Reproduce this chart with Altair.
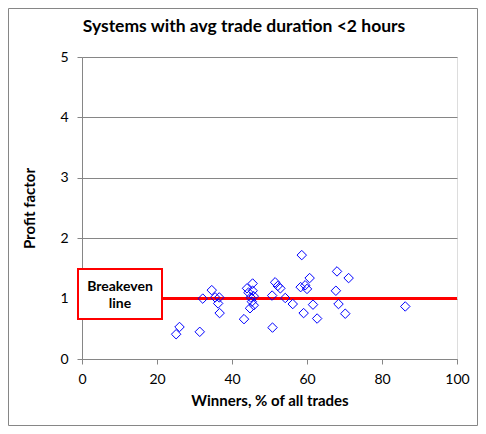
import altair as alt
import pandas as pd

# Data
winners = [25.1, 26.0, 31.4, 32.2, 34.6, 35.5, 36.6, 36.3, 36.7, 43.2,
           44.0, 44.4, 45.5, 45.5, 45.0, 45.8, 45.3, 45.8, 44.8, 50.7,
           50.8, 51.5, 52.2, 52.9, 54.2, 56.2, 58.6, 58.3, 59.5, 60.0,
           59.1, 60.7, 61.6, 62.7, 67.7, 68.0, 68.4, 70.2, 71.1, 86.2]
profit = [0.41, 0.53, 0.45, 1.00, 1.14, 1.02, 1.02, 0.92, 0.76, 0.66,
          1.17, 1.10, 1.25, 1.13, 1.02, 1.04, 0.95, 0.89, 0.84, 1.05,
          0.52, 1.27, 1.21, 1.17, 1.01, 0.91, 1.72, 1.19, 1.22, 1.16,
          0.76, 1.34, 0.90, 0.67, 1.13, 1.45, 0.91, 0.75, 1.34, 0.87]
breakeven_x = [0, 100]
breakeven_y = [1]
x_ticks = [0, 20, 40, 60, 80, 100]
y_ticks = [0, 1, 2, 3, 4, 5]
callout_text = "Breakeven\nline"
title_text = "Systems with avg trade duration <2 hours"

FONT = "Lato"
GRAY = "#868686"

pts = pd.DataFrame({"winners": winners, "pf": profit})
be = pd.DataFrame({"x": [breakeven_x[0]], "x2": [breakeven_x[1]], "y": breakeven_y})
one = pd.DataFrame({"t": [callout_text], "title": [title_text]})

xscale = alt.Scale(domain=[0, 100], nice=False)
yscale = alt.Scale(domain=[0, 5], nice=False)

xaxis = alt.Axis(values=x_ticks, title="Winners, % of all trades", grid=False,
                 domainColor=GRAY, tickColor=GRAY, tickSize=5, labelPadding=8,
                 labelFlush=False, labelFontSize=14, labelColor="black", labelFont=FONT,
                 titleFontSize=15, titleFontWeight="bold", titleColor="black",
                 titleFont=FONT, titlePadding=7)
yaxis = alt.Axis(values=y_ticks, title="Profit factor", grid=True, gridColor=GRAY,
                 gridOpacity=1, domainColor=GRAY, tickColor=GRAY, tickSize=5,
                 labelPadding=9, labelFlush=False, labelFontSize=14, labelColor="black",
                 labelFont=FONT, titleFontSize=15, titleFontWeight="bold",
                 titleColor="black", titleFont=FONT, titlePadding=22)

border = alt.Chart(one).mark_rect(fill="transparent", stroke=GRAY, strokeWidth=1).encode(
    x=alt.value(-73.5), x2=alt.value(395.5), y=alt.value(-48.5), y2=alt.value(368.5)
)

title = alt.Chart(one).mark_text(font=FONT, fontSize=17.5, fontWeight="bold",
                                 color="black", baseline="alphabetic",
                                 align="center").encode(
    x=alt.value(162), y=alt.value(-25), text="title:N"
)

rule = alt.Chart(be).mark_rule(color="#FF0000", strokeWidth=3).encode(
    x=alt.X("x:Q", scale=xscale, axis=xaxis),
    x2="x2:Q",
    y=alt.Y("y:Q", scale=yscale, axis=yaxis),
)

points = alt.Chart(pts).mark_point(shape="diamond", filled=False, color="#0000FF",
                                   size=90, strokeWidth=1, opacity=1).encode(
    x=alt.X("winners:Q", scale=xscale, axis=xaxis),
    y=alt.Y("pf:Q", scale=yscale, axis=yaxis),
)

box = alt.Chart(one).mark_rect(fill="white", stroke="#FF0000", strokeWidth=2).encode(
    x=alt.value(-4), x2=alt.value(80), y=alt.value(212), y2=alt.value(262)
)

label = alt.Chart(one).mark_text(font=FONT, fontSize=14, fontWeight="bold",
                                 color="black", lineBreak="\n", lineHeight=17,
                                 baseline="middle", align="center").encode(
    x=alt.value(38), y=alt.value(229.5), text="t:N"
)

chart = alt.layer(border, title, rule, points, box, label).properties(
    width=375, height=302,
    autosize=alt.AutoSizeParams(type="none"),
    padding={"left": 74, "top": 49, "right": 21, "bottom": 67},
).configure_view(stroke=None).configure(background="white")

chart.save("out.html", embed_options={"renderer": "svg", "actions": False})
